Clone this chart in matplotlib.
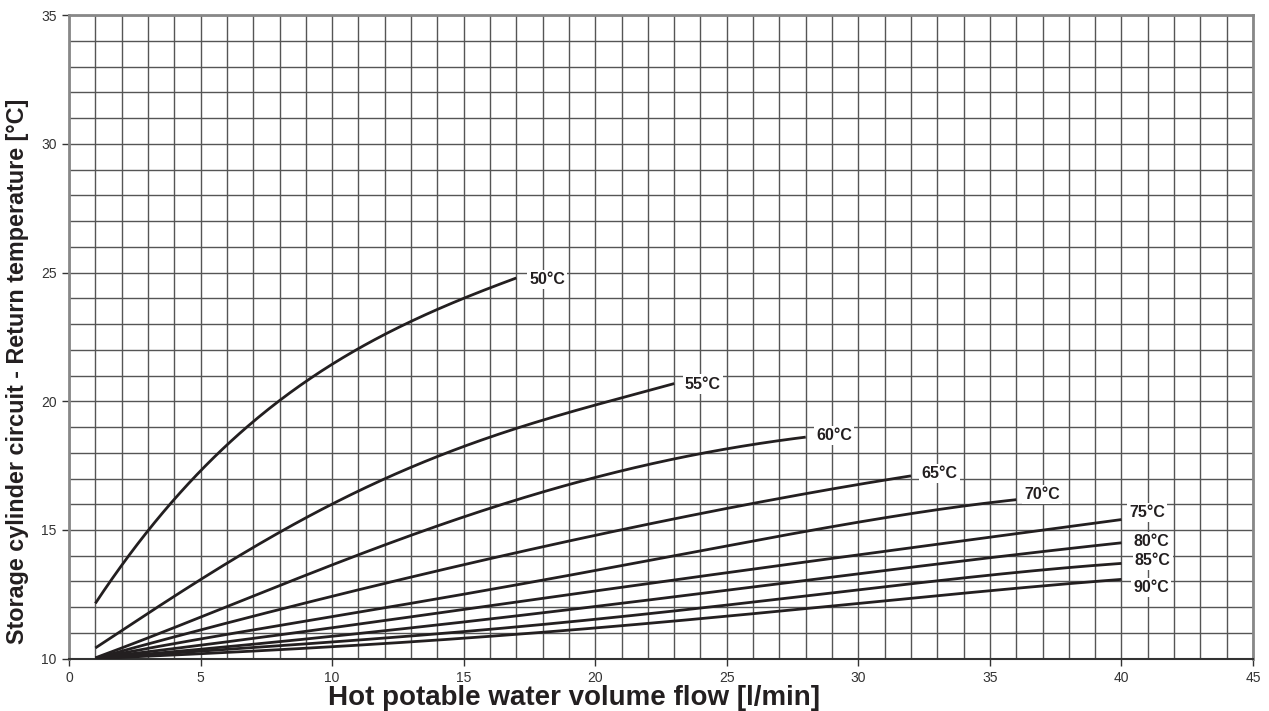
import numpy as np
import matplotlib
matplotlib.use("Agg")
import matplotlib.pyplot as plt
from matplotlib.ticker import MultipleLocator

plt.rcParams['font.family'] = ['Liberation Sans', 'DejaVu Sans']

# curves: storage temperature -> (flow [l/min], return temperature [°C])
x50 = [1, 2, 3, 4, 5, 6, 7, 8, 9, 10, 11, 12, 13, 14, 15, 16, 17]
y50 = [12.15, 13.6, 15.0, 16.2, 17.3, 18.3, 19.2, 20.0, 20.75, 21.45, 22.1,
       22.6, 23.1, 23.55, 24.0, 24.4, 24.8]
x55 = [1, 3, 5, 7, 9, 11, 13, 15, 17, 19, 21, 23]
y55 = [10.45, 11.7, 13.05, 14.35, 15.55, 16.5, 17.4, 18.2, 18.95, 19.6, 20.15, 20.67]
x60 = [1, 3, 5, 7, 10, 13, 16, 19, 22, 25, 28]
y60 = [10.0, 10.85, 11.65, 12.4, 13.6, 14.8, 15.85, 16.8, 17.55, 18.1, 18.63]
x65 = [1, 5, 10, 14, 18, 21, 24, 28, 32]
y65 = [10.0, 11.15, 12.4, 13.4, 14.35, 15.0, 15.7, 16.35, 17.12]
x70 = [1, 5, 10, 15, 20, 25.5, 31.5, 36]
y70 = [10.0, 10.8, 11.6, 12.5, 13.45, 14.47, 15.55, 16.18]
x_hi = [1, 5, 10.3, 15, 20, 25.5, 31.5, 40]
y75 = [10.0, 10.6, 11.18, 11.9, 12.65, 13.44, 14.21, 15.41]
y80 = [10.0, 10.4, 10.85, 11.45, 12.05, 12.69, 13.5, 14.5]
y85 = [10.0, 10.3, 10.66, 11.05, 11.55, 12.12, 12.86, 13.7]
y90 = [10.0, 10.2, 10.47, 10.8, 11.2, 11.69, 12.3, 13.08]

curves = [(x50, y50), (x55, y55), (x60, y60), (x65, y65), (x70, y70),
          (x_hi, y75), (x_hi, y80), (x_hi, y85), (x_hi, y90)]
labels = ["50°C", "55°C", "60°C", "65°C", "70°C", "75°C", "80°C", "85°C", "90°C"]
label_x = [17.5, 23.4, 28.4, 32.4, 36.3, 40.3, 40.45, 40.5, 40.45]
label_y = [24.72, 20.67, 18.67, 17.21, 16.37, 15.67, 14.56, 13.8, 12.75]

fig = plt.figure(figsize=(12.69, 7.11), dpi=100)
ax = fig.add_axes([0.0544, 0.0736, 0.933, 0.905])

for xs, ys in curves:
    # smooth the read-off points a little for drawing
    xf = np.linspace(xs[0], xs[-1], 200)
    coef = np.polyfit(xs, ys, min(4, len(xs) - 1))
    ax.plot(xf, np.polyval(coef, xf), color="#231f20", lw=2.0,
            solid_capstyle="butt", zorder=3)

for t, lx, ly in zip(labels, label_x, label_y):
    ax.text(lx, ly, t, fontsize=11.5, fontweight="bold", color="#231f20",
            ha="left", va="center", zorder=4,
            bbox=dict(fc="white", ec="none", pad=1.5))

ax.set_xlim(0, 45)
ax.set_ylim(10, 35)
ax.xaxis.set_major_locator(MultipleLocator(5))
ax.yaxis.set_major_locator(MultipleLocator(5))
ax.xaxis.set_minor_locator(MultipleLocator(1))
ax.yaxis.set_minor_locator(MultipleLocator(1))
ax.grid(which="both", color="#555555", lw=1.0, zorder=1)
ax.tick_params(which="minor", length=0)
ax.tick_params(which="major", length=5, width=1, color="#333333",
               labelsize=10, labelcolor="#333333", pad=4)

for side in ["left", "top", "right"]:
    ax.spines[side].set_color("#888888")
    ax.spines[side].set_linewidth(2)
ax.spines["bottom"].set_color("#333333")
ax.spines["bottom"].set_linewidth(1.5)

fig.text(0.452, 0.008, "Hot potable water volume flow [l/min]", fontsize=20,
         fontweight="bold", color="#231f20", ha="center", va="baseline")
fig.text(0.0135, 0.478, "Storage cylinder circuit - Return temperature [°C]",
         fontsize=16.8, fontweight="bold", color="#231f20", rotation=90,
         ha="center", va="center")

fig.savefig("out.png", dpi=100)
